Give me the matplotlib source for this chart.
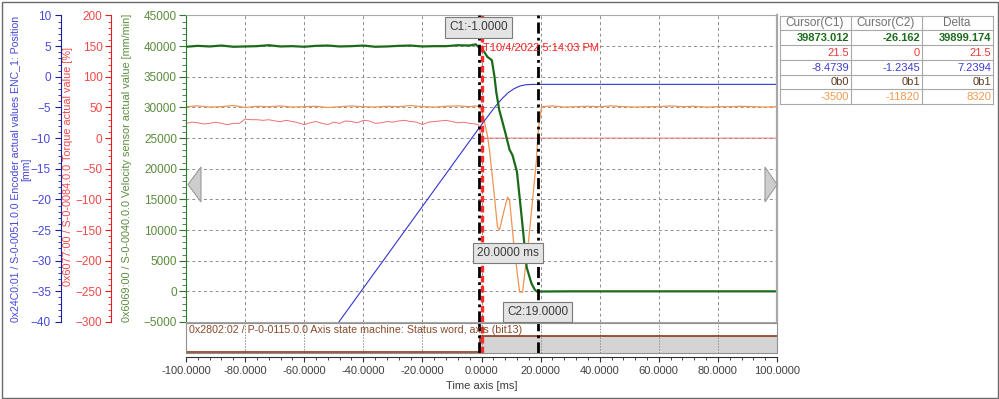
import matplotlib
matplotlib.use('Agg')
import matplotlib.pyplot as plt
from matplotlib.ticker import MultipleLocator, FormatStrFormatter
from matplotlib.patches import Rectangle, Polygon
import matplotlib.transforms as mtransforms

plt.rcParams['font.family'] = ['Liberation Sans', 'DejaVu Sans']

# ---------------- data ----------------
# velocity sensor actual value [mm/min]
vel_t = list(range(-100, -3, 4)) + [-2, -1, 0, 1, 2, 3, 3.5, 4.4, 5, 6, 8, 9.5, 10.5, 12, 13.6, 15.3, 16.9, 18, 18.6, 19,
                                     30, 45, 60, 75, 90, 100]
vel_v = [39900, 40050, 39950, 40100, 39900, 39950, 40000, 40150, 39950, 40000, 39900, 40050, 40100,
         39950, 40000, 40100, 39900, 39950, 40050, 40100, 39950, 40000, 40000, 40150, 40100,
         40300, 39873, 39700, 39000, 38250, 37900, 37700, 35000, 32500, 29600, 26000, 23100, 22200,
         19500, 12100, 3900, 1300, 300, 0, -26,
         0, 0, 0, 0, 0, 0]

# encoder position [mm]
pos_t = [-100, -1, 1, 3, 5, 7, 9, 11, 13, 15, 17, 19, 100]
pos_v = [-74.5, -8.4739, -7.17, -5.9, -4.65, -3.55, -2.6, -1.95, -1.5, -1.3, -1.24, -1.2345, -1.2345]

# torque actual value [%]
trq_t = list(range(-100, -1, 2)) + [-1, 0, 100]
trq_v = [24, 26, 25, 23, 24, 26, 24, 22, 24, 24,
         31, 30, 30, 29, 30, 28, 27, 29, 27, 25,
         22, 25, 27, 24, 22, 26, 24, 28, 27, 25,
         29, 28, 24, 25, 27, 26, 28, 29, 27, 26,
         22, 26, 27, 28, 29, 27, 25, 26, 24, 23,
         21.5, 0, 0]

# fifth (orange) channel, own hidden scale
cur_t = list(range(-100, -3, 4)) + [-2, -1, 0, 1, 2, 2.7, 4, 5.4, 6.1, 7.5, 8.8, 9.5, 11, 12.9, 13.9, 16, 18.6, 19,
                                     19.5, 20.3, 24, 28, 32, 36, 40, 44, 48, 52, 56, 60, 64, 68, 72, 76, 80,
                                     84, 88, 92, 96, 100]
cur_v = [-3500, -3300, -3600, -3500, -3200, -3700, -3400, -3500, -3300, -3600, -3500, -3400, -3700,
         -3500, -3300, -3500, -3600, -3400, -3500, -3200, -3500, -3600, -3400, -3300, -3500,
         -3300, -3500, -4350, -7500, -11000, -14800, -24000, -34900, -35700, -31000, -27100, -27900,
         -40000, -51900, -51900, -38000, -17400, -11820, -8000, -3500,
         -3300, -3600, -3500, -3400, -3500, -3300, -3500, -3600, -3500, -3500, -3300, -3500, -3400,
         -3600, -3500, -3500, -3400, -3500, -3600, -3500]

# status word bit13
st_t = [-100, -0.5, 100]
st_v = [0, 1, 1]

cursor_c1 = -1.0
cursor_c2 = 19.0
trigger_t = 0.0
x_ticks = [-100, -80, -60, -40, -20, 0, 20, 40, 60, 80, 100]

table_header = ['Cursor(C1)', 'Cursor(C2)', 'Delta']
table_rows = [['39873.012', '-26.162', '39899.174'],
              ['21.5', '0', '21.5'],
              ['-8.4739', '-1.2345', '7.2394'],
              ['0b0', '0b1', '0b1'],
              ['-3500', '-11820', '8320']]
table_colors = ['#1c6c1c', '#e83a3a', '#3c3cd2', '#5a3a22', '#f09a50']

# ---------------- layout helpers ----------------
W, H = 999, 399
PX = 72.0 / 100.0


def frect(x0, y0, x1, y1):
    return [x0 / W, 1 - y1 / H, (x1 - x0) / W, (y1 - y0) / H]


fig = plt.figure(figsize=(9.99, 3.99), dpi=100)
fig.patch.set_facecolor('white')

MAIN = frect(186, 15.5, 777, 322)

# grid axes (bottom)
axg = fig.add_axes(MAIN, zorder=0)
axg.set_xlim(-100, 100)
axg.set_ylim(-5000, 45000)
axg.set_xticks(x_ticks)
axg.set_yticks(range(-5000, 45001, 5000))
axg.grid(True, color='#8c8c8c', linestyle=(0, (3, 3)), linewidth=0.7)
axg.tick_params(left=False, bottom=False, labelleft=False, labelbottom=False)
for s in axg.spines.values():
    s.set_visible(False)


def data_axes(z, ylim):
    a = fig.add_axes(MAIN, zorder=z)
    a.patch.set_visible(False)
    a.set_xlim(-100, 100)
    a.set_ylim(*ylim)
    a.tick_params(bottom=False, labelbottom=False)
    for s in a.spines.values():
        s.set_visible(False)
    return a


ax_o = data_axes(1, (-59700, 20300))
ax_o.tick_params(left=False, labelleft=False)
ax_r = data_axes(2, (-300, 200))
ax_b = data_axes(3, (-40, 10))
ax = data_axes(4, (-5000, 45000))

YTS = 8.5

# blue axis
ax_b.spines['left'].set_visible(True)
ax_b.spines['left'].set_position(('outward', 125 * PX))
ax_b.spines['left'].set_color('#1c1ca0')
ax_b.yaxis.set_major_locator(MultipleLocator(5))
ax_b.yaxis.set_minor_locator(MultipleLocator(1))
ax_b.tick_params(axis='y', which='both', colors='#1c1ca0', labelcolor='#4848dc', labelsize=YTS, pad=4 * PX)
ax_b.tick_params(axis='y', which='major', length=6 * PX)
ax_b.tick_params(axis='y', which='minor', length=3.5 * PX)

# red axis
ax_r.spines['left'].set_visible(True)
ax_r.spines['left'].set_position(('outward', 75 * PX))
ax_r.spines['left'].set_color('#e02020')
ax_r.yaxis.set_major_locator(MultipleLocator(50))
ax_r.yaxis.set_minor_locator(MultipleLocator(10))
ax_r.tick_params(axis='y', which='both', colors='#e02020', labelcolor='#f04848', labelsize=YTS, pad=2.5 * PX)
ax_r.tick_params(axis='y', which='major', length=6 * PX)
ax_r.tick_params(axis='y', which='minor', length=3.5 * PX)

# green axis (main)
ax.spines['left'].set_visible(True)
ax.spines['left'].set_color('#2a7a2a')
for k in ('top', 'right', 'bottom'):
    ax.spines[k].set_visible(True)
    ax.spines[k].set_color('#a8a8a8')
ax.spines['right'].set_linewidth(1.6)
ax.yaxis.set_major_locator(MultipleLocator(5000))
ax.yaxis.set_minor_locator(MultipleLocator(1000))
ax.tick_params(axis='y', which='both', colors='#2a7a2a', labelcolor='#5a8c3c', labelsize=YTS, pad=1.5 * PX)
ax.tick_params(axis='y', which='major', length=7.5 * PX)
ax.tick_params(axis='y', which='minor', length=4.5 * PX)
ax.tick_params(axis='x', which='both', bottom=False, labelbottom=False)

# data lines
ax_o.plot(cur_t, cur_v, color='#f29350', lw=0.9)
ax_r.plot(trq_t, trq_v, color='#ee7070', lw=0.7)
ax_b.plot(pos_t, pos_v, color='#3434d4', lw=0.8)
ax.plot(vel_t, vel_v, color='#1a6a1a', lw=1.6)

# trigger + cursors
ax.axvline(trigger_t, color='#ff2a2a', lw=2.4, linestyle=(0, (2, 1)), zorder=8)
ax.axvline(cursor_c1, color='black', lw=2.0, linestyle=(0, (4, 1.5, 1, 1.5)), zorder=9)
ax.axvline(cursor_c2, color='black', lw=2.0, linestyle=(0, (4, 1.5, 1, 1.5)), zorder=9)

btr = mtransforms.blended_transform_factory(ax.transData, ax.transAxes)
ax.text(trigger_t + 0.4, 0.893, 'T10/4/2022 5:14:03 PM', transform=btr,
        color='#ff2020', fontsize=8, ha='left', va='center', zorder=12)

box = dict(boxstyle='square,pad=0.35', fc='#e4e4e4', ec='#7a7a7a', lw=0.8)
ax.text(cursor_c1, 0.961, 'C1:-1.0000', transform=btr, ha='center', va='center', fontsize=8.5, color='#3a3a3a', bbox=box, zorder=20)
ax.text((cursor_c1 + cursor_c2) / 2, 0.225, '20.0000 ms', transform=btr, ha='center', va='center', fontsize=8.5, color='#3a3a3a', bbox=box, zorder=20)
ax.text(cursor_c2, 0.033, 'C2:19.0000', transform=btr, ha='center', va='center', fontsize=8.5, color='#3a3a3a', bbox=box, zorder=20, clip_on=False)

# status panel
axs = fig.add_axes(frect(186, 323, 777, 353), zorder=5)
axs.set_xlim(-100, 100)
axs.set_ylim(-0.0625, 1.8125)
axs.set_xticks(x_ticks)
axs.grid(True, axis='x', color='#8c8c8c', linestyle=(0, (1.5, 1.5)), linewidth=0.7)
axs.tick_params(left=False, bottom=False, labelleft=False, labelbottom=False)
for s in axs.spines.values():
    s.set_color('#909090')
axs.fill_between(st_t, -0.0625, [1 if v > 0 else -0.0625 for v in st_v], step='post', color='#d4d4d4', lw=0)
axs.plot(st_t, st_v, drawstyle='steps-post', color='#8a3a1c', lw=1.2)
axs.axvline(trigger_t, color='#ff2a2a', lw=2.4, linestyle=(0, (2, 1)))
axs.axvline(cursor_c1, color='black', lw=2.0, linestyle=(0, (4, 1.5, 1, 1.5)))
axs.axvline(cursor_c2, color='black', lw=2.0, linestyle=(0, (4, 1.5, 1, 1.5)))
axs.text(-99, 1.4, '0x2802:02 / P-0-0115.0.0 Axis state machine: Status word, axis (bit13)',
         color='#8a4a2a', fontsize=7.7, ha='left', va='center')

# x axis
axx = fig.add_axes(frect(186, 356, 777, 357), zorder=5)
axx.patch.set_visible(False)
axx.set_xlim(-100, 100)
axx.set_yticks([])
for k in ('top', 'left', 'right'):
    axx.spines[k].set_visible(False)
axx.spines['bottom'].set_color('#303030')
axx.set_xticks(x_ticks)
axx.xaxis.set_minor_locator(MultipleLocator(4))
axx.xaxis.set_major_formatter(FormatStrFormatter('%.4f'))
axx.tick_params(axis='x', which='both', colors='#303030', labelcolor='#404040', labelsize=8, pad=4 * PX)
axx.tick_params(axis='x', which='major', length=5 * PX)
axx.tick_params(axis='x', which='minor', length=3 * PX)
axx.set_xlabel('Time axis [ms]', fontsize=8, color='#404040', labelpad=3.5)

# axis labels
fig.text(21 / W, 1 - 169 / H, '0x24C0:01 / S-0-0051.0.0 Encoder actual values ENC_1: Position\n[mm]',
         rotation=90, ha='center', va='center', color='#4646d8', fontsize=7.6, multialignment='center', linespacing=1.15)
fig.text(68 / W, 1 - 167 / H, '0x6077:00 / S-0-0084.0.0 Torque actual value [%]',
         rotation=90, ha='center', va='center', color='#f04848', fontsize=7.8)
fig.text(127 / W, 1 - 168 / H, '0x6069:00 / S-0-0040.0.0 Velocity sensor actual value [mm/min]',
         rotation=90, ha='center', va='center', color='#5a8c3c', fontsize=7.8)

# overlay: table, border, arrows
ov = fig.add_axes([0, 0, 1, 1], zorder=30)
ov.patch.set_visible(False)
ov.set_xlim(0, W)
ov.set_ylim(H, 0)
ov.axis('off')
ov.add_patch(Rectangle((1.5, 1.5), W - 3, H - 3, fill=False, ec='#6a6a6a', lw=1.0))

col_x = [779.5, 850.5, 921.5, 992.5]
row_y = [15.5, 30, 45, 60, 74.5, 89, 103.5]
for x in col_x:
    ov.plot([x, x], [row_y[0], row_y[-1]], color='#a8a8a8', lw=0.8)
for y in row_y:
    ov.plot([col_x[0], col_x[-1]], [y, y], color='#a8a8a8', lw=0.8)
for j, hdr in enumerate(table_header):
    ov.text((col_x[j] + col_x[j + 1]) / 2, (row_y[0] + row_y[1]) / 2 + 0.5, hdr, ha='center', va='center',
            fontsize=8.5, color='#707070')
for i, row in enumerate(table_rows):
    for j, val in enumerate(row):
        ov.text(col_x[j + 1] - 1.5, (row_y[i + 1] + row_y[i + 2]) / 2 + 0.5, val, ha='right', va='center',
                fontsize=8, color=table_colors[i], fontweight='bold' if i == 0 else 'normal')

ov.add_patch(Polygon([(201, 167), (201, 202), (188, 184.5)], closed=True, fc='#cdcdcd', ec='#9a9a9a', lw=0.8))
ov.add_patch(Polygon([(765, 167), (765, 202), (777, 184.5)], closed=True, fc='#cdcdcd', ec='#9a9a9a', lw=0.8))

fig.savefig('out.png', dpi=100)
